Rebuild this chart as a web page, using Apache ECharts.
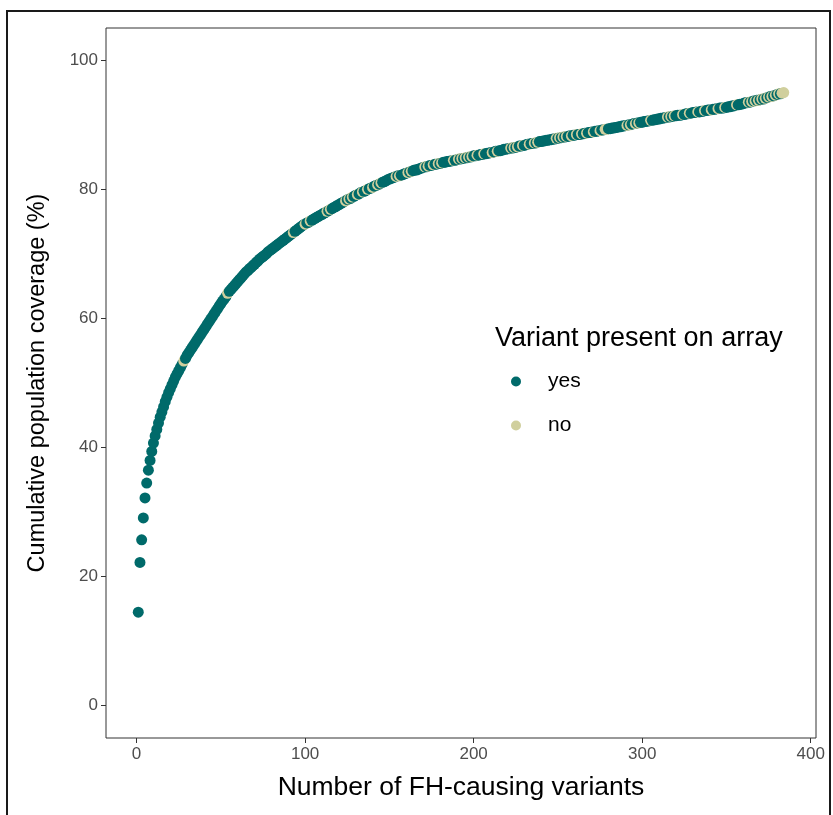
<!DOCTYPE html>
<html><head><meta charset="utf-8">
<script src="https://cdn.jsdelivr.net/npm/echarts@6/dist/echarts.min.js"></script>
<style>html,body{margin:0;padding:0;background:#fff}#c{width:833px;height:815px}</style>
</head><body><div id="c"></div>
<script>
// Cumulative population coverage (%) for variant rank 1..384
const coverage = [
14.5, 22.2, 25.7, 29.1, 32.2, 34.5, 36.5, 38.0, 39.4, 40.7,
41.8, 42.8, 43.8, 44.7, 45.5, 46.3, 47.1, 47.8, 48.5, 49.1,
49.7, 50.3, 50.9, 51.4, 51.9, 52.4, 52.9, 53.4, 53.8, 54.3,
54.7, 55.1, 55.5, 55.9, 56.3, 56.7, 57.1, 57.5, 57.9, 58.3,
58.7, 59.1, 59.5, 59.9, 60.3, 60.7, 61.1, 61.5, 61.9, 62.3,
62.7, 63.0, 63.4, 63.9, 64.2, 64.5, 64.8, 65.1, 65.4, 65.7,
66.0, 66.3, 66.6, 66.9, 67.2, 67.4, 67.7, 67.9, 68.2, 68.4,
68.7, 68.9, 69.2, 69.4, 69.6, 69.8, 70.0, 70.3, 70.5, 70.7,
70.9, 71.1, 71.3, 71.5, 71.7, 71.9, 72.1, 72.3, 72.5, 72.7,
72.9, 73.1, 73.3, 73.5, 73.7, 73.9, 74.1, 74.3, 74.5, 74.6,
74.8, 74.9, 75.1, 75.2, 75.4, 75.5, 75.7, 75.8, 76.0, 76.1,
76.3, 76.4, 76.6, 76.7, 76.9, 77.0, 77.2, 77.3, 77.5, 77.6,
77.8, 77.9, 78.1, 78.2, 78.4, 78.5, 78.6, 78.8, 78.9, 79.1,
79.2, 79.3, 79.5, 79.6, 79.7, 79.8, 80.0, 80.1, 80.2, 80.3,
80.5, 80.6, 80.7, 80.8, 81.0, 81.1, 81.2, 81.3, 81.5, 81.6,
81.7, 81.8, 81.9, 82.0, 82.1, 82.1, 82.2, 82.3, 82.4, 82.5,
82.6, 82.7, 82.8, 82.9, 83.0, 83.0, 83.1, 83.2, 83.3, 83.4,
83.5, 83.5, 83.6, 83.7, 83.7, 83.8, 83.9, 83.9, 84.0, 84.0,
84.1, 84.2, 84.2, 84.3, 84.3, 84.4, 84.4, 84.5, 84.5, 84.6,
84.7, 84.7, 84.8, 84.8, 84.9, 84.9, 85.0, 85.0, 85.1, 85.2,
85.2, 85.3, 85.3, 85.4, 85.4, 85.5, 85.5, 85.6, 85.6, 85.7,
85.7, 85.8, 85.9, 85.9, 86.0, 86.0, 86.1, 86.2, 86.2, 86.3,
86.3, 86.4, 86.4, 86.5, 86.5, 86.6, 86.7, 86.7, 86.8, 86.8,
86.9, 87.0, 87.0, 87.1, 87.1, 87.2, 87.2, 87.3, 87.4, 87.4,
87.5, 87.5, 87.6, 87.6, 87.7, 87.7, 87.8, 87.8, 87.9, 87.9,
88.0, 88.0, 88.1, 88.1, 88.2, 88.2, 88.3, 88.3, 88.4, 88.4,
88.5, 88.5, 88.5, 88.6, 88.6, 88.7, 88.7, 88.8, 88.8, 88.9,
88.9, 89.0, 89.0, 89.1, 89.1, 89.2, 89.2, 89.3, 89.3, 89.4,
89.4, 89.5, 89.5, 89.6, 89.6, 89.7, 89.7, 89.8, 89.8, 89.9,
89.9, 90.0, 90.0, 90.1, 90.2, 90.2, 90.3, 90.3, 90.4, 90.4,
90.5, 90.5, 90.6, 90.6, 90.7, 90.7, 90.8, 90.8, 90.9, 90.9,
91.0, 91.0, 91.1, 91.1, 91.2, 91.2, 91.3, 91.3, 91.4, 91.4,
91.5, 91.5, 91.5, 91.6, 91.6, 91.7, 91.7, 91.8, 91.8, 91.9,
91.9, 92.0, 92.0, 92.0, 92.1, 92.1, 92.2, 92.2, 92.3, 92.3,
92.3, 92.4, 92.4, 92.5, 92.5, 92.6, 92.6, 92.6, 92.7, 92.7,
92.8, 92.8, 92.9, 92.9, 93.0, 93.1, 93.1, 93.2, 93.2, 93.3,
93.4, 93.4, 93.5, 93.5, 93.6, 93.7, 93.7, 93.8, 93.8, 93.9,
94.0, 94.0, 94.1, 94.2, 94.3, 94.4, 94.4, 94.5, 94.6, 94.7,
94.8, 94.8, 94.9, 95.0
];
// Variant ranks NOT present on array
const noVariants = [28, 54, 93, 100, 103, 113, 115, 124, 126, 128, 131, 134, 137, 140, 143, 145,
  154, 156, 161, 163, 171, 173, 176, 179, 181, 188, 191, 193, 195, 197, 199, 202, 206, 211, 214,
  222, 224, 226, 229, 233, 236, 238, 249, 251, 253, 255, 258, 261, 264, 267, 271, 275, 278, 279,
  291, 293, 296, 298, 305, 315, 317, 319, 324, 328, 333, 337, 341, 345, 349, 356, 363, 365, 367,
  369, 371, 373, 375, 377, 379, 381, 383, 384];
const xTicks = [0, 100, 200, 300, 400];
const yTicks = [0, 20, 40, 60, 80, 100];
const groups = ['yes', 'no'];
const legendTitle = 'Variant present on array';
const xTitle = 'Number of FH-causing variants';
const yTitle = 'Cumulative population coverage (%)';

const COLORS = { yes: '#006a6a', no: '#d0cf9d' };
const FONT = '"Liberation Sans", Arial, sans-serif';
const noSet = new Set(noVariants);
const points = coverage.map((v, i) => {
  const rank = i + 1;
  const g = noSet.has(rank) ? 'no' : 'yes';
  return { value: [rank, v], itemStyle: { color: COLORS[g], opacity: 1 } };
});

const chart = echarts.init(document.getElementById('c'), null, { renderer: 'canvas' });
chart.setOption({
  backgroundColor: '#fff',
  animation: false,
  grid: { left: 106, right: 17, top: 28, bottom: 77, show: true, borderColor: '#333', borderWidth: 1, backgroundColor: 'transparent' },
  xAxis: {
    type: 'value', min: -18.15, max: 403.15,
    axisLine: { show: false, onZero: false },
    splitLine: { show: false },
    axisTick: { show: true, length: 5, lineStyle: { color: '#333' }, customValues: xTicks },
    axisLabel: { customValues: xTicks, color: '#4d4d4d', fontSize: 17, fontFamily: FONT, margin: 8 },
    name: xTitle, nameLocation: 'middle', nameGap: 36,
    nameTextStyle: { color: '#000', fontSize: 26.5, fontFamily: FONT }
  },
  yAxis: {
    type: 'value', min: -5, max: 105,
    axisLine: { show: false, onZero: false },
    splitLine: { show: false },
    axisTick: { show: true, length: 5, lineStyle: { color: '#333' }, customValues: yTicks },
    axisLabel: { customValues: yTicks, color: '#4d4d4d', fontSize: 17, fontFamily: FONT, margin: 8 },
    name: yTitle, nameLocation: 'middle', nameGap: 56,
    nameTextStyle: { color: '#000', fontSize: 23.5, fontFamily: FONT }
  },
  legend: {
    data: groups, orient: 'vertical', left: 506, top: 366,
    itemWidth: 10, itemHeight: 10, itemGap: 23, icon: 'circle',
    selectedMode: false,
    textStyle: { color: '#000', fontSize: 21, fontFamily: FONT, lineHeight: 20, padding: [0, 0, 0, 22] }
  },
  graphic: [
    { type: 'rect', shape: { x: 7, y: 11, width: 823, height: 900 }, style: { fill: 'none', stroke: '#1a1a1a', lineWidth: 2 }, silent: true },
    { type: 'text', left: 495, top: 325, style: { text: legendTitle, fill: '#000', fontSize: 27, fontFamily: FONT } }
  ],
  series: [
    { name: 'main', type: 'scatter', symbol: 'circle', symbolSize: 11, data: points, z: 2 },
    { name: 'yes', type: 'scatter', data: [], itemStyle: { color: COLORS.yes, opacity: 1 } },
    { name: 'no', type: 'scatter', data: [], itemStyle: { color: COLORS.no, opacity: 1 } }
  ]
});
</script>
</body></html>
